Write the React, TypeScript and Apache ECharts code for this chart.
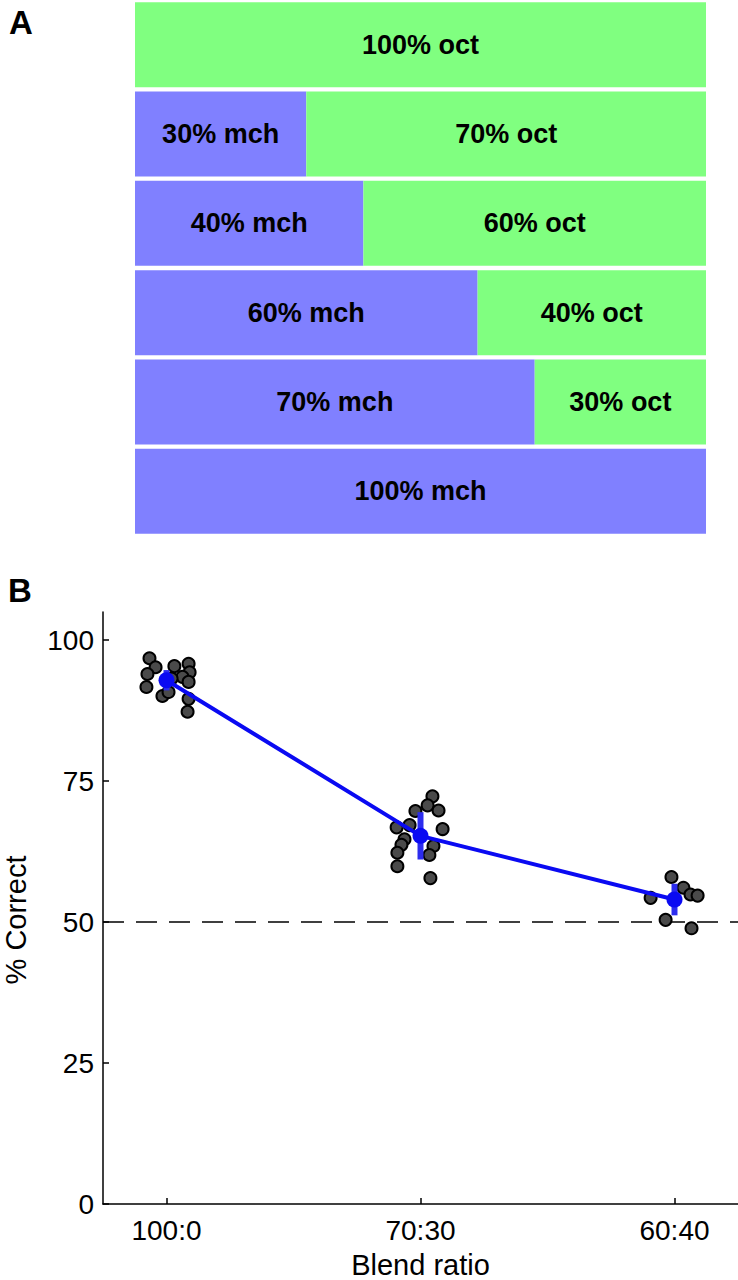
import React, { useEffect, useRef } from "react";
import * as echarts from "echarts";

// Panel A: blend compositions (top to bottom)
const blendRows = ["100:0", "70:30", "60:40", "40:60", "30:70", "0:100"];
const mchPercent = [0, 30, 40, 60, 70, 100];
const octPercent = [100, 70, 60, 40, 30, 0];

// Panel B: categories and tick labels
const ratioLabels = ["100:0", "70:30", "60:40"];
const ratioPositions = [1, 2, 3];
const yTicks = [0, 25, 50, 75, 100];

// Individual subjects (horizontal jitter in axis units, % correct)
const jitter100 = [-0.067, -0.043, -0.075, -0.079, -0.016, 0.008, 0.031, 0.087, 0.091, 0.063, 0.087, 0.02, 0.087, 0.083];
const score100 = [96.8, 95.2, 94.0, 91.7, 90.1, 90.8, 95.4, 95.8, 94.3, 93.5, 92.6, 93.2, 89.6, 87.3];
const jitter70 = [0.047, 0.028, 0.071, -0.02, 0.087, -0.094, -0.043, -0.063, -0.075, -0.091, -0.091, 0.051, 0.035, 0.039];
const score70 = [72.3, 70.7, 69.8, 69.7, 66.5, 66.8, 67.2, 64.7, 63.7, 62.3, 59.9, 63.5, 61.9, 57.8];
const jitter60 = [-0.012, 0.035, 0.063, 0.091, -0.094, -0.035, 0.067];
const score60 = [58.0, 56.1, 54.9, 54.7, 54.3, 50.4, 48.9];

// Group means and error (SEM)
const meanScores = [92.9, 65.3, 54.0];
const meanErrors = [1.8, 4.2, 2.8];
const chanceLevel = 50;

const FONT = "Liberation Sans, Arial, Helvetica, sans-serif";

export default function App() {
  const ref = useRef<HTMLDivElement>(null);

  useEffect(() => {
    if (!ref.current) return;
    const chart = echarts.init(ref.current, undefined, { renderer: "svg" });

    const subjects: number[][] = [];
    [
      [jitter100, score100],
      [jitter70, score70],
      [jitter60, score60],
    ].forEach(([jit, sc], gi) => {
      jit.forEach((j, i) => subjects.push([ratioPositions[gi] + j, sc[i]]));
    });

    const meanData = ratioPositions.map((x, i) => [x, meanScores[i]]);
    const errData = ratioPositions.map((x, i) => [x, meanScores[i] - meanErrors[i], meanScores[i] + meanErrors[i]]);

    const barLabel = (suffix: string) => ({
      show: true,
      position: "inside",
      color: "#000",
      fontFamily: FONT,
      fontWeight: "bold",
      fontSize: 27,
      formatter: (p: any) => (p.value > 0 ? `${p.value}% ${suffix}` : ""),
    });

    const option: any = {
      animation: false,
      backgroundColor: "#fff",
      grid: [
        { left: 135, top: 0, width: 571, height: 536 },
        { left: 103, top: 612, right: 0, bottom: 72 },
      ],
      xAxis: [
        { gridIndex: 0, type: "value", min: 0, max: 100, show: false },
        {
          gridIndex: 1,
          type: "value",
          min: 0.75,
          max: 3.25,
          name: "Blend ratio",
          nameLocation: "middle",
          nameGap: 46,
          nameTextStyle: { fontFamily: FONT, fontSize: 29, color: "#000" },
          axisLine: { show: true, lineStyle: { color: "#000", width: 1.5 } },
          axisTick: { show: true, inside: true, length: 6, customValues: ratioPositions, lineStyle: { color: "#000", width: 1.5 } },
          axisLabel: {
            customValues: ratioPositions,
            formatter: (v: number) => ratioLabels[Math.round(v) - 1] ?? "",
            fontFamily: FONT,
            fontSize: 28,
            color: "#000",
            margin: 12,
          },
          splitLine: { show: false },
        },
      ],
      yAxis: [
        { gridIndex: 0, type: "category", data: blendRows, inverse: true, show: false },
        {
          gridIndex: 1,
          type: "value",
          min: 0,
          max: 105,
          axisLine: { show: true, lineStyle: { color: "#000", width: 1.5 } },
          axisTick: { show: true, inside: true, length: 6, customValues: yTicks, lineStyle: { color: "#000", width: 1.5 } },
          axisLabel: { customValues: yTicks, fontFamily: FONT, fontSize: 28, color: "#000", margin: 9 },
          splitLine: { show: false },
        },
      ],
      graphic: [
        { type: "text", left: 9, top: 6, style: { text: "A", font: `bold 33px ${FONT}`, fill: "#000" } },
        { type: "text", left: 8, top: 574, style: { text: "B", font: `bold 33px ${FONT}`, fill: "#000" } },
        {
          type: "text",
          x: 16,
          y: 920,
          rotation: Math.PI / 2,
          style: {
            text: "% Correct",
            font: `29px ${FONT}`,
            fill: "#000",
            align: "center",
            verticalAlign: "middle",
            textAlign: "center",
            textVerticalAlign: "middle",
          },
        },
      ],
      series: [
        {
          name: "mch",
          type: "bar",
          stack: "blend",
          xAxisIndex: 0,
          yAxisIndex: 0,
          barWidth: 85,
          data: mchPercent,
          itemStyle: { color: "#8080ff" },
          label: barLabel("mch"),
        },
        {
          name: "oct",
          type: "bar",
          stack: "blend",
          xAxisIndex: 0,
          yAxisIndex: 0,
          barWidth: 85,
          data: octPercent,
          itemStyle: { color: "#80ff80" },
          label: barLabel("oct"),
        },
        {
          name: "subjects",
          type: "scatter",
          xAxisIndex: 1,
          yAxisIndex: 1,
          symbol: "circle",
          symbolSize: 12,
          data: subjects,
          itemStyle: { color: "#4a4a4a", borderColor: "#000", borderWidth: 2, opacity: 1 },
          z: 2,
          markLine: {
            silent: true,
            symbol: "none",
            label: { show: false },
            lineStyle: { color: "#000", width: 1.5, type: [21, 12] },
            data: [{ yAxis: chanceLevel }],
            z: 1,
          },
        },
        {
          name: "sem",
          type: "custom",
          xAxisIndex: 1,
          yAxisIndex: 1,
          data: errData,
          z: 3,
          renderItem: (params: any, api: any) => {
            const lo = api.coord([api.value(0), api.value(1)]);
            const hi = api.coord([api.value(0), api.value(2)]);
            return {
              type: "line",
              shape: { x1: lo[0], y1: lo[1], x2: hi[0], y2: hi[1] },
              style: { stroke: "#2c2cee", lineWidth: 6 },
            };
          },
        },
        {
          name: "mean",
          type: "line",
          xAxisIndex: 1,
          yAxisIndex: 1,
          data: meanData,
          symbol: "circle",
          symbolSize: 16,
          lineStyle: { color: "#0a0af2", width: 4 },
          itemStyle: { color: "#0a0af2" },
          z: 4,
        },
      ],
    };

    chart.setOption(option);
    return () => chart.dispose();
  }, []);

  return <div ref={ref} style={{ position: "absolute", left: 0, top: 0, width: 738, height: 1280 }} />;
}
